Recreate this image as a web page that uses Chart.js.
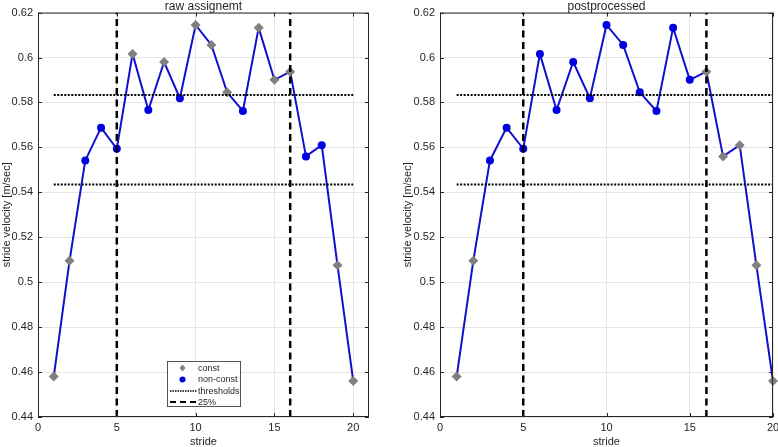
<!DOCTYPE html>
<html>
<head>
<meta charset="utf-8">
<script src="https://cdn.jsdelivr.net/npm/chart.js@4.4.1/dist/chart.umd.min.js"></script>
<style>
  body { margin: 0; background: #fff; }
  .wrap { position: absolute; top: 0; width: 390px; height: 447px; }
  #w1 { left: 0; }
  #w2 { left: 390px; width: 388px; }
</style>
</head>
<body>
<div class="wrap" id="w1"><canvas id="rawChart"></canvas></div>
<div class="wrap" id="w2"><canvas id="postChart"></canvas></div>
<script>
// stride velocities
const strides = [1, 2, 3, 4, 5, 6, 7, 8, 9, 10, 11, 12, 13, 14, 15, 16, 17, 18, 19, 20];
const velocity = [0.458, 0.5095, 0.5542, 0.5688, 0.5594, 0.6016, 0.5766, 0.598, 0.5819, 0.6145,
	0.6056, 0.5845, 0.5762, 0.6133, 0.5901, 0.5937, 0.556, 0.561, 0.5076, 0.456];
// 1 = const, 0 = non-const
const rawConst = [1, 1, 0, 0, 0, 1, 0, 1, 0, 1, 1, 1, 0, 1, 1, 1, 0, 0, 1, 1];
const postConst = [1, 1, 0, 0, 0, 0, 0, 0, 0, 0, 0, 0, 0, 0, 0, 1, 1, 1, 1, 1];
const thresholds = [0.5833, 0.5435];
const quartiles = [5, 16];
const xTicks = [0, 5, 10, 15, 20];
const yTicks = [0.44, 0.46, 0.48, 0.5, 0.52, 0.54, 0.56, 0.58, 0.6, 0.62];
const legendLabels = ['const', 'non-const', 'thresholds', '25%'];

const FONT = '"Liberation Sans", Arial, sans-serif';
const TEXT = '#262626';
const GRAY = '#808080';
const BLUE = '#0000e0';

function buildDatasets(flags) {
	const pts = strides.map((s, i) => ({ x: s, y: velocity[i] }));
	const sets = [];
	quartiles.forEach(q => sets.push({
		data: [{ x: q, y: 0.44 }, { x: q, y: 0.62 }],
		borderColor: '#000', borderWidth: 2.5, borderDash: [7, 4.5],
		pointRadius: 0, order: 0
	}));
	thresholds.forEach(t => sets.push({
		data: [{ x: strides[0], y: t }, { x: strides[strides.length - 1], y: t }],
		borderColor: '#000', borderWidth: 2, borderDash: [2, 1.5],
		pointRadius: 0, order: 0
	}));
	sets.push({
		data: pts.filter((p, i) => flags[i]),
		showLine: false, pointStyle: 'rectRot', pointRadius: 5,
		backgroundColor: GRAY, borderColor: GRAY, borderWidth: 0, order: 1, clip: false
	});
	sets.push({
		data: pts.filter((p, i) => !flags[i]),
		showLine: false, pointStyle: 'circle', pointRadius: 4,
		backgroundColor: BLUE, borderColor: BLUE, borderWidth: 0, order: 1, clip: false
	});
	sets.push({
		data: pts, borderColor: '#1010cc', borderWidth: 2,
		pointRadius: 0, order: 2, tension: 0
	});
	return sets;
}

// MATLAB-like box with inward ticks
const boxPlugin = {
	id: 'box',
	afterDraw(chart) {
		const { ctx, chartArea: a, scales } = chart;
		ctx.save();
		ctx.strokeStyle = TEXT;
		ctx.lineWidth = 1;
		ctx.strokeRect(a.left + 0.5, a.top + 0.5, a.right - a.left - 1, a.bottom - a.top - 1);
		ctx.beginPath();
		xTicks.forEach(v => {
			const px = Math.round(scales.x.getPixelForValue(v)) + 0.5;
			ctx.moveTo(px, a.bottom); ctx.lineTo(px, a.bottom - 4);
			ctx.moveTo(px, a.top); ctx.lineTo(px, a.top + 4);
		});
		yTicks.forEach(v => {
			const py = Math.round(scales.y.getPixelForValue(v)) + 0.5;
			ctx.moveTo(a.left, py); ctx.lineTo(a.left + 4, py);
			ctx.moveTo(a.right, py); ctx.lineTo(a.right - 4, py);
		});
		ctx.stroke();
		ctx.restore();
	}
};

// legend box inside the left axes
const legendPlugin = {
	id: 'boxLegend',
	afterDraw(chart, args, opts) {
		if (!opts.show) return;
		const { ctx, chartArea: a } = chart;
		const x0 = a.left + 129, y0 = a.bottom - 56, w = 73, h = 45;
		ctx.save();
		ctx.fillStyle = '#fff';
		ctx.fillRect(x0, y0, w, h);
		ctx.strokeStyle = '#555';
		ctx.lineWidth = 1;
		ctx.strokeRect(x0 + 0.5, y0 + 0.5, w, h);
		const rows = [y0 + 7, y0 + 18.5, y0 + 30, y0 + 41];
		const mx = x0 + 15.5;
		// const diamond
		ctx.fillStyle = GRAY;
		ctx.beginPath();
		ctx.moveTo(mx, rows[0] - 3.5); ctx.lineTo(mx + 3, rows[0]);
		ctx.lineTo(mx, rows[0] + 3.5); ctx.lineTo(mx - 3, rows[0]);
		ctx.closePath(); ctx.fill();
		// non-const dot
		ctx.fillStyle = BLUE;
		ctx.beginPath(); ctx.arc(mx, rows[1], 3, 0, Math.PI * 2); ctx.fill();
		// thresholds
		ctx.strokeStyle = '#000';
		ctx.lineWidth = 1.5;
		ctx.setLineDash([1.5, 1]);
		ctx.beginPath(); ctx.moveTo(x0 + 3, rows[2]); ctx.lineTo(x0 + 30, rows[2]); ctx.stroke();
		ctx.lineWidth = 2;
		ctx.setLineDash([6, 4]);
		ctx.beginPath(); ctx.moveTo(x0 + 3, rows[3]); ctx.lineTo(x0 + 30, rows[3]); ctx.stroke();
		ctx.setLineDash([]);
		ctx.fillStyle = TEXT;
		ctx.font = '9px ' + FONT;
		ctx.textBaseline = 'middle';
		legendLabels.forEach((t, i) => ctx.fillText(t, x0 + 31, rows[i] + 0.5));
		ctx.restore();
	}
};

function makeChart(id, title, flags, opts) {
	return new Chart(document.getElementById(id), {
		type: 'line',
		data: { datasets: buildDatasets(flags) },
		plugins: [boxPlugin, legendPlugin],
		options: {
			responsive: true,
			maintainAspectRatio: false,
			animation: false,
			events: [],
			layout: { padding: { left: opts.padLeft, right: opts.padRight, top: 0, bottom: 0 } },
			plugins: {
				legend: { display: false },
				tooltip: { enabled: false },
				title: {
					display: true, text: title, fullSize: false, color: TEXT,
					font: { family: FONT, size: 12, weight: 'normal', lineHeight: 1.05 },
					padding: 0
				},
				boxLegend: { show: opts.legend }
			},
			scales: {
				x: {
					type: 'linear', min: 0, max: opts.xMax,
					afterBuildTicks: s => { s.ticks = xTicks.map(v => ({ value: v })); },
					afterFit: s => { s.height = 30; s.paddingLeft = 0; s.paddingRight = 0; },
					ticks: { color: TEXT, font: { family: FONT, size: 11 }, padding: 4, maxRotation: 0 },
					grid: { color: '#e6e6e6', drawTicks: false },
					border: { display: false },
					title: { display: true, text: 'stride', color: TEXT, font: { family: FONT, size: 11, lineHeight: 1 }, padding: 0 }
				},
				y: {
					type: 'linear', min: 0.44, max: 0.62,
					afterBuildTicks: s => { s.ticks = yTicks.map(v => ({ value: v })); },
					afterFit: s => { s.width = opts.yWidth; s.paddingTop = 0; s.paddingBottom = 0; },
					ticks: {
						color: TEXT, font: { family: FONT, size: 11 }, padding: 5,
						callback: v => String(Number(v.toFixed(2)))
					},
					grid: { color: '#e6e6e6', drawTicks: false },
					border: { display: false },
					title: { display: true, text: 'stride velocity [m/sec]', color: TEXT, font: { family: FONT, size: 11 }, padding: 0 }
				}
			}
		}
	});
}

makeChart('rawChart', 'raw assignemt', rawConst, { xMax: 21, padLeft: 0, padRight: 21, yWidth: 38, legend: true });
makeChart('postChart', 'postprocessed', postConst, { xMax: 20, padLeft: 11, padRight: 5, yWidth: 39, legend: false });
</script>
</body>
</html>
